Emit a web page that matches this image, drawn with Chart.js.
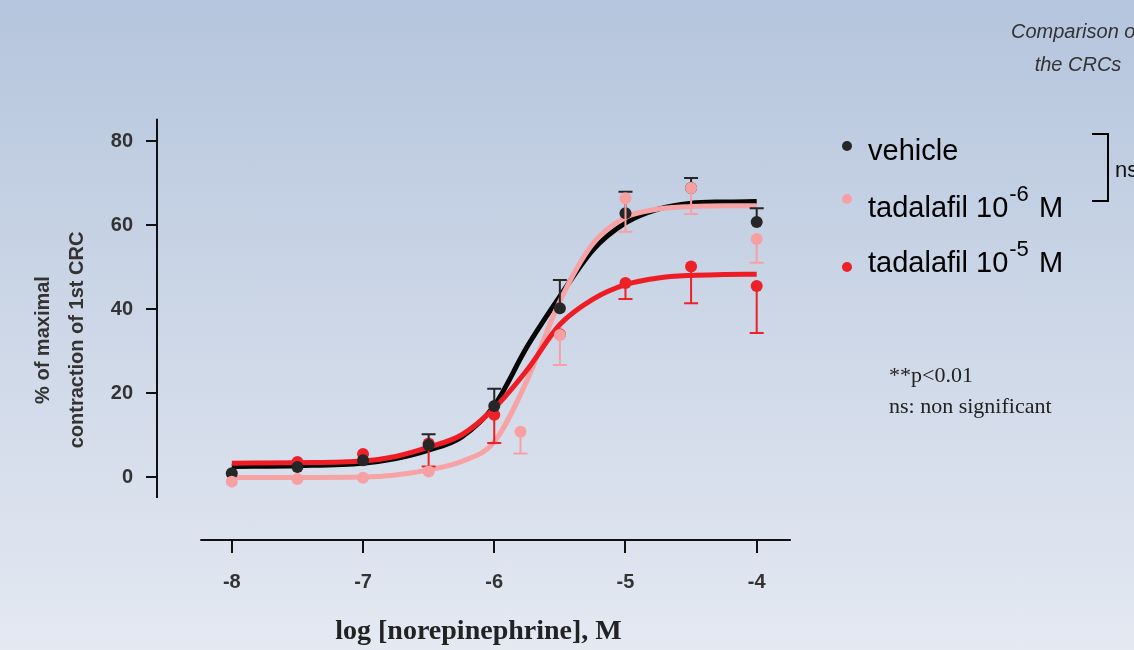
<!DOCTYPE html>
<html>
<head>
<meta charset="utf-8">
<script src="https://cdn.jsdelivr.net/npm/chart.js@4.4.1/dist/chart.umd.min.js"></script>
<style>
  html, body { margin: 0; padding: 0; }
  body {
    width: 1134px;
    height: 650px;
    overflow: hidden;
    background: linear-gradient(180deg, #b5c5dd 0%, #cdd7e7 50%, #e4e9f2 100%);
  }
  #chart { display: block; }
</style>
</head>
<body>
<canvas id="chart" width="1134" height="650"></canvas>
<script>
// log concentrations of norepinephrine
const doseLog = [-8, -7.5, -7, -6.5, -6, -5.5, -5, -4.5, -4];
const doseLogTada6 = [-8, -7.5, -7, -6.5, -5.8, -5.5, -5, -4.5, -4];

// mean response (% of 1st CRC max) and error bar length
const vehicleMean = [0.9, 2.4, 4.0, 7.6, 16.9, 40.2, 62.8, 68.8, 60.7];
const vehicleErr = [0, 0, 0, 2.6, 4.1, 6.7, 5.1, 2.4, 3.3];
const tada6Mean = [-1.1, -0.5, -0.2, 1.3, 10.8, 33.8, 66.4, 68.8, 56.7];
const tada6Err = [0, 0, 0, 0, 5.2, 7.1, 8.0, 6.2, 5.7];
const tada5Mean = [null, 3.6, 5.5, 8.0, 14.8, 34.0, 46.2, 50.1, 45.5];
const tada5Err = [0, 0, 0, 5.5, 6.7, 0, 3.8, 8.7, 11.2];

// fitted curves
const fitX = [-8, -7.5, -7, -6.75, -6.5, -6.25, -6, -5.75, -5.5, -5.25, -5, -4.75, -4.5, -4.25, -4];
const vehicleFit = [2.5, 2.7, 3.3, 4.4, 6.4, 9.5, 17.0, 31.0, 43.0, 54.0, 60.5, 63.8, 65.2, 65.5, 65.6];
const tada6Fit = [-0.1, -0.1, 0.0, 0.5, 1.7, 3.7, 8.4, 23.0, 41.9, 55.5, 61.8, 63.8, 64.4, 64.6, 64.6];
const tada5Fit = [3.3, 3.4, 3.8, 4.9, 7.1, 10.0, 16.4, 25.5, 36.3, 42.3, 45.8, 47.4, 48.0, 48.2, 48.3];

const seriesLabels = ['vehicle', 'tadalafil 10^-6 M', 'tadalafil 10^-5 M'];
const xTicks = [-8, -7, -6, -5, -4];
const yTicks = [0, 20, 40, 60, 80];

const SANS = "'Liberation Sans', Arial, sans-serif";
const SERIF = "'Liberation Serif', 'Times New Roman', serif";

// pointOrder: lower is drawn on top
const series = [
  { x: doseLog, mean: vehicleMean, err: vehicleErr, dir: 1, fit: vehicleFit, marker: '#262626', line: '#050505', pointOrder: 2 },
  { x: doseLogTada6, mean: tada6Mean, err: tada6Err, dir: -1, fit: tada6Fit, marker: '#f6a0a3', line: '#f7a2a4', pointOrder: 1 },
  { x: doseLog, mean: tada5Mean, err: tada5Err, dir: -1, fit: tada5Fit, marker: '#ec2228', line: '#ee1d25', pointOrder: 3 },
];

const datasets = [];
series.forEach((s, i) => {
  datasets.push({
    type: 'line',
    label: seriesLabels[i] + ' (fit)',
    data: fitX.map((x, k) => ({ x, y: s.fit[k] })),
    borderColor: s.line,
    borderWidth: 5,
    pointRadius: 0,
    cubicInterpolationMode: 'monotone',
    order: 12 - i,
  });
  datasets.push({
    type: 'scatter',
    label: seriesLabels[i],
    data: s.x.map((x, k) => ({ x, y: s.mean[k] })),
    errors: s.err,
    errorDir: s.dir,
    backgroundColor: s.marker,
    borderWidth: 0,
    pointRadius: 6,
    order: s.pointOrder,
  });
});

// one-sided error bars, drawn just before each point dataset
const errorBars = {
  id: 'errorBars',
  beforeDatasetDraw(chart, args) {
    const ds = chart.data.datasets[args.index];
    if (!ds.errors) return;
    const { ctx } = chart;
    const { x, y } = chart.scales;
    ctx.save();
    ctx.strokeStyle = ds.backgroundColor;
    ctx.lineWidth = 2;
    ds.data.forEach((p, k) => {
      const e = ds.errors[k];
      if (!e || p.y === null) return;
      const px = x.getPixelForValue(p.x);
      const py0 = y.getPixelForValue(p.y);
      const py1 = y.getPixelForValue(p.y + ds.errorDir * e);
      ctx.beginPath();
      ctx.moveTo(px, py0);
      ctx.lineTo(px, py1);
      ctx.moveTo(px - 7, py1);
      ctx.lineTo(px + 7, py1);
      ctx.stroke();
    });
    ctx.restore();
  },
};

// detached axis lines (Prism style)
const axisLines = {
  id: 'axisLines',
  afterDraw(chart) {
    const { ctx } = chart;
    const { x, y } = chart.scales;
    ctx.save();
    ctx.strokeStyle = '#111';
    ctx.lineWidth = 2;
    ctx.beginPath();
    ctx.moveTo(x.getPixelForValue(-8.24), x.top);
    ctx.lineTo(x.getPixelForValue(-3.74), x.top);
    ctx.moveTo(y.right, y.getPixelForValue(-5));
    ctx.lineTo(y.right, y.getPixelForValue(85.3));
    ctx.stroke();
    ctx.restore();
  },
};

// legend, bracket and notes on the right
const sideNotes = {
  id: 'sideNotes',
  afterDraw(chart) {
    const { ctx } = chart;
    const dotY = [146, 199, 267];
    const baseY = [160, 217, 272];
    ctx.save();
    ctx.textBaseline = 'alphabetic';
    ctx.textAlign = 'left';
    series.forEach((s, i) => {
      ctx.fillStyle = s.marker;
      ctx.beginPath();
      ctx.arc(847, dotY[i], 5, 0, Math.PI * 2);
      ctx.fill();

      ctx.fillStyle = '#000';
      let xPos = 868;
      const parts = seriesLabels[i].split(/\^(-?\d+)/);
      parts.forEach((part, k) => {
        if (k % 2 === 1) {
          ctx.font = `22px ${SANS}`;
          ctx.fillText(part, xPos + 1, baseY[i] - 16);
          xPos += ctx.measureText(part).width + 3;
        } else if (part) {
          ctx.font = `29px ${SANS}`;
          ctx.fillText(part, xPos, baseY[i]);
          xPos += ctx.measureText(part).width;
        }
      });
    });

    // ns bracket
    ctx.strokeStyle = '#000';
    ctx.lineWidth = 2;
    ctx.beginPath();
    ctx.moveTo(1092, 134);
    ctx.lineTo(1108, 134);
    ctx.lineTo(1108, 201);
    ctx.lineTo(1092, 201);
    ctx.stroke();
    ctx.fillStyle = '#111';
    ctx.font = `22px ${SANS}`;
    ctx.fillText('ns', 1115, 177);

    ctx.fillStyle = '#222';
    ctx.font = `22px ${SERIF}`;
    ctx.fillText('**p<0.01', 889, 382);
    ctx.fillText('ns: non significant', 889, 413);

    ctx.fillStyle = '#333';
    ctx.font = `italic 20px ${SANS}`;
    ctx.textAlign = 'center';
    ctx.fillText('Comparison of', 1076, 38);
    ctx.fillText('the CRCs', 1078, 71);
    ctx.restore();
  },
};

new Chart(document.getElementById('chart'), {
  data: { datasets },
  options: {
    responsive: false,
    animation: false,
    devicePixelRatio: 1,
    layout: { padding: { top: 140, right: 334, bottom: 0, left: 0 } },
    plugins: {
      legend: { display: false },
      tooltip: { enabled: false },
    },
    scales: {
      x: {
        type: 'linear',
        min: -8.57,
        max: -3.67,
        afterBuildTicks: (scale) => { scale.ticks = xTicks.map((v) => ({ value: v })); },
        afterFit: (scale) => { scale.height = 110; },
        border: { display: false },
        grid: { drawOnChartArea: false, drawTicks: true, tickLength: 13, color: '#111', lineWidth: 2 },
        ticks: {
          color: '#333',
          padding: 17,
          maxRotation: 0,
          font: { family: SANS, size: 20, weight: 'bold' },
        },
        title: {
          display: true,
          text: 'log [norepinephrine], M',
          color: '#222',
          font: { family: SERIF, size: 28, weight: 'bold' },
          padding: { top: 0, bottom: 1 },
        },
      },
      y: {
        type: 'linear',
        min: -15,
        max: 80.25,
        afterBuildTicks: (scale) => { scale.ticks = yTicks.map((v) => ({ value: v })); },
        afterFit: (scale) => { scale.width = 157; },
        border: { display: false },
        grid: { drawOnChartArea: false, drawTicks: true, tickLength: 11, color: '#111', lineWidth: 2 },
        ticks: {
          color: '#333',
          padding: 13,
          font: { family: SANS, size: 20, weight: 'bold' },
        },
        title: {
          display: true,
          text: ['% of maximal', 'contraction of 1st CRC'],
          color: '#333',
          font: { family: SANS, size: 20, weight: 'bold', lineHeight: 1.7 },
          padding: { top: 26, bottom: 0 },
        },
      },
    },
  },
  plugins: [errorBars, axisLines, sideNotes],
});
</script>
</body>
</html>
